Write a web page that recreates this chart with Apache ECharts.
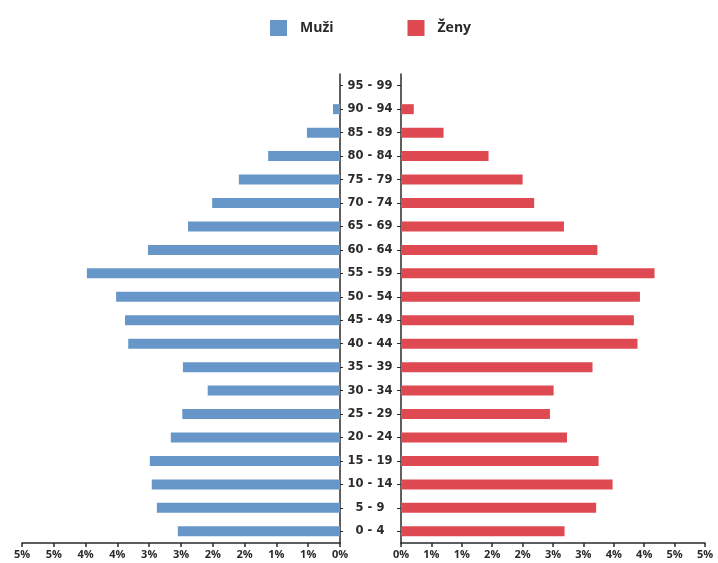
<!DOCTYPE html>
<html>
<head>
<meta charset="utf-8">
<title>Věková pyramida</title>
<script src="https://cdn.jsdelivr.net/npm/echarts@6/dist/echarts.min.js"></script>
<style>
  html, body { margin: 0; padding: 0; background: #fff; }
  #chart { width: 718px; height: 563px; }
</style>
</head>
<body>
<div id="chart"></div>
<script>
// věkové skupiny odspodu nahoru
const ageGroups = ['0 - 4', '5 - 9', '10 - 14', '15 - 19', '20 - 24', '25 - 29', '30 - 34',
  '35 - 39', '40 - 44', '45 - 49', '50 - 54', '55 - 59', '60 - 64', '65 - 69', '70 - 74',
  '75 - 79', '80 - 84', '85 - 89', '90 - 94', '95 - 99'];

// podíl v %
const muzi = [2.55, 2.88, 2.96, 2.99, 2.66, 2.48, 2.08, 2.47, 3.33, 3.38, 3.52, 3.98, 3.02,
  2.39, 2.01, 1.59, 1.13, 0.52, 0.11, 0];
const zeny = [2.69, 3.21, 3.48, 3.25, 2.73, 2.45, 2.51, 3.15, 3.89, 3.83, 3.93, 4.17, 3.23,
  2.68, 2.19, 2.00, 1.44, 0.70, 0.21, 0];

const axisMin = 0;
const axisMax = 5;
const axisStep = 0.5;

const blue = '#6797c8';
const red = '#df4a52';
const ink = '#2a2a2a';

const chart = echarts.init(document.getElementById('chart'));

const valueAxis = (gridIndex, inverse) => ({
  type: 'value',
  gridIndex,
  inverse,
  min: axisMin,
  max: axisMax,
  interval: axisStep,
  splitLine: { show: false },
  axisLine: { show: true, lineStyle: { color: ink, width: 1.5 } },
  axisTick: { show: true, length: 4, lineStyle: { color: ink, width: 1.5 } },
  axisLabel: {
    color: ink,
    fontFamily: 'Open Sans',
    fontWeight: 'bold',
    fontSize: 11,
    margin: 6,
    formatter: v => Math.round(v) + '%'
  }
});

chart.setOption({
  animation: false,
  legend: {
    top: 15,
    left: 265,
    itemWidth: 17,
    itemHeight: 16,
    itemGap: 74,
    icon: 'rect',
    textStyle: {
      color: ink,
      fontFamily: 'Open Sans',
      fontWeight: 'bold',
      fontSize: 14,
      padding: [0, 0, 10, 8]
    },
    data: ['Muži', 'Ženy']
  },
  grid: [
    { left: 22, right: 378, top: 74, bottom: 20 },
    { left: 401, right: 13, top: 74, bottom: 20 }
  ],
  xAxis: [valueAxis(0, true), valueAxis(1, false)],
  yAxis: [
    {
      type: 'category',
      gridIndex: 0,
      position: 'right',
      data: ageGroups,
      axisLine: { show: true, lineStyle: { color: ink, width: 1.5 } },
      axisTick: { show: true, alignWithLabel: true, length: 3, lineStyle: { color: ink } },
      axisLabel: {
        align: 'center',
        margin: 30,
        color: ink,
        fontFamily: 'DejaVu Sans',
        fontWeight: 'bold',
        fontSize: 11.5,
        padding: [0, 0, 6, 0]
      }
    },
    {
      type: 'category',
      gridIndex: 1,
      position: 'left',
      data: ageGroups,
      axisLine: { show: true, lineStyle: { color: ink, width: 1.5 } },
      axisTick: { show: true, alignWithLabel: true, length: 4, lineStyle: { color: ink } },
      axisLabel: { show: false }
    }
  ],
  series: [
    {
      name: 'Muži',
      type: 'bar',
      xAxisIndex: 0,
      yAxisIndex: 0,
      barWidth: 10,
      itemStyle: { color: blue },
      data: muzi
    },
    {
      name: 'Ženy',
      type: 'bar',
      xAxisIndex: 1,
      yAxisIndex: 1,
      barWidth: 10,
      itemStyle: { color: red },
      data: zeny
    }
  ]
});
</script>
</body>
</html>
